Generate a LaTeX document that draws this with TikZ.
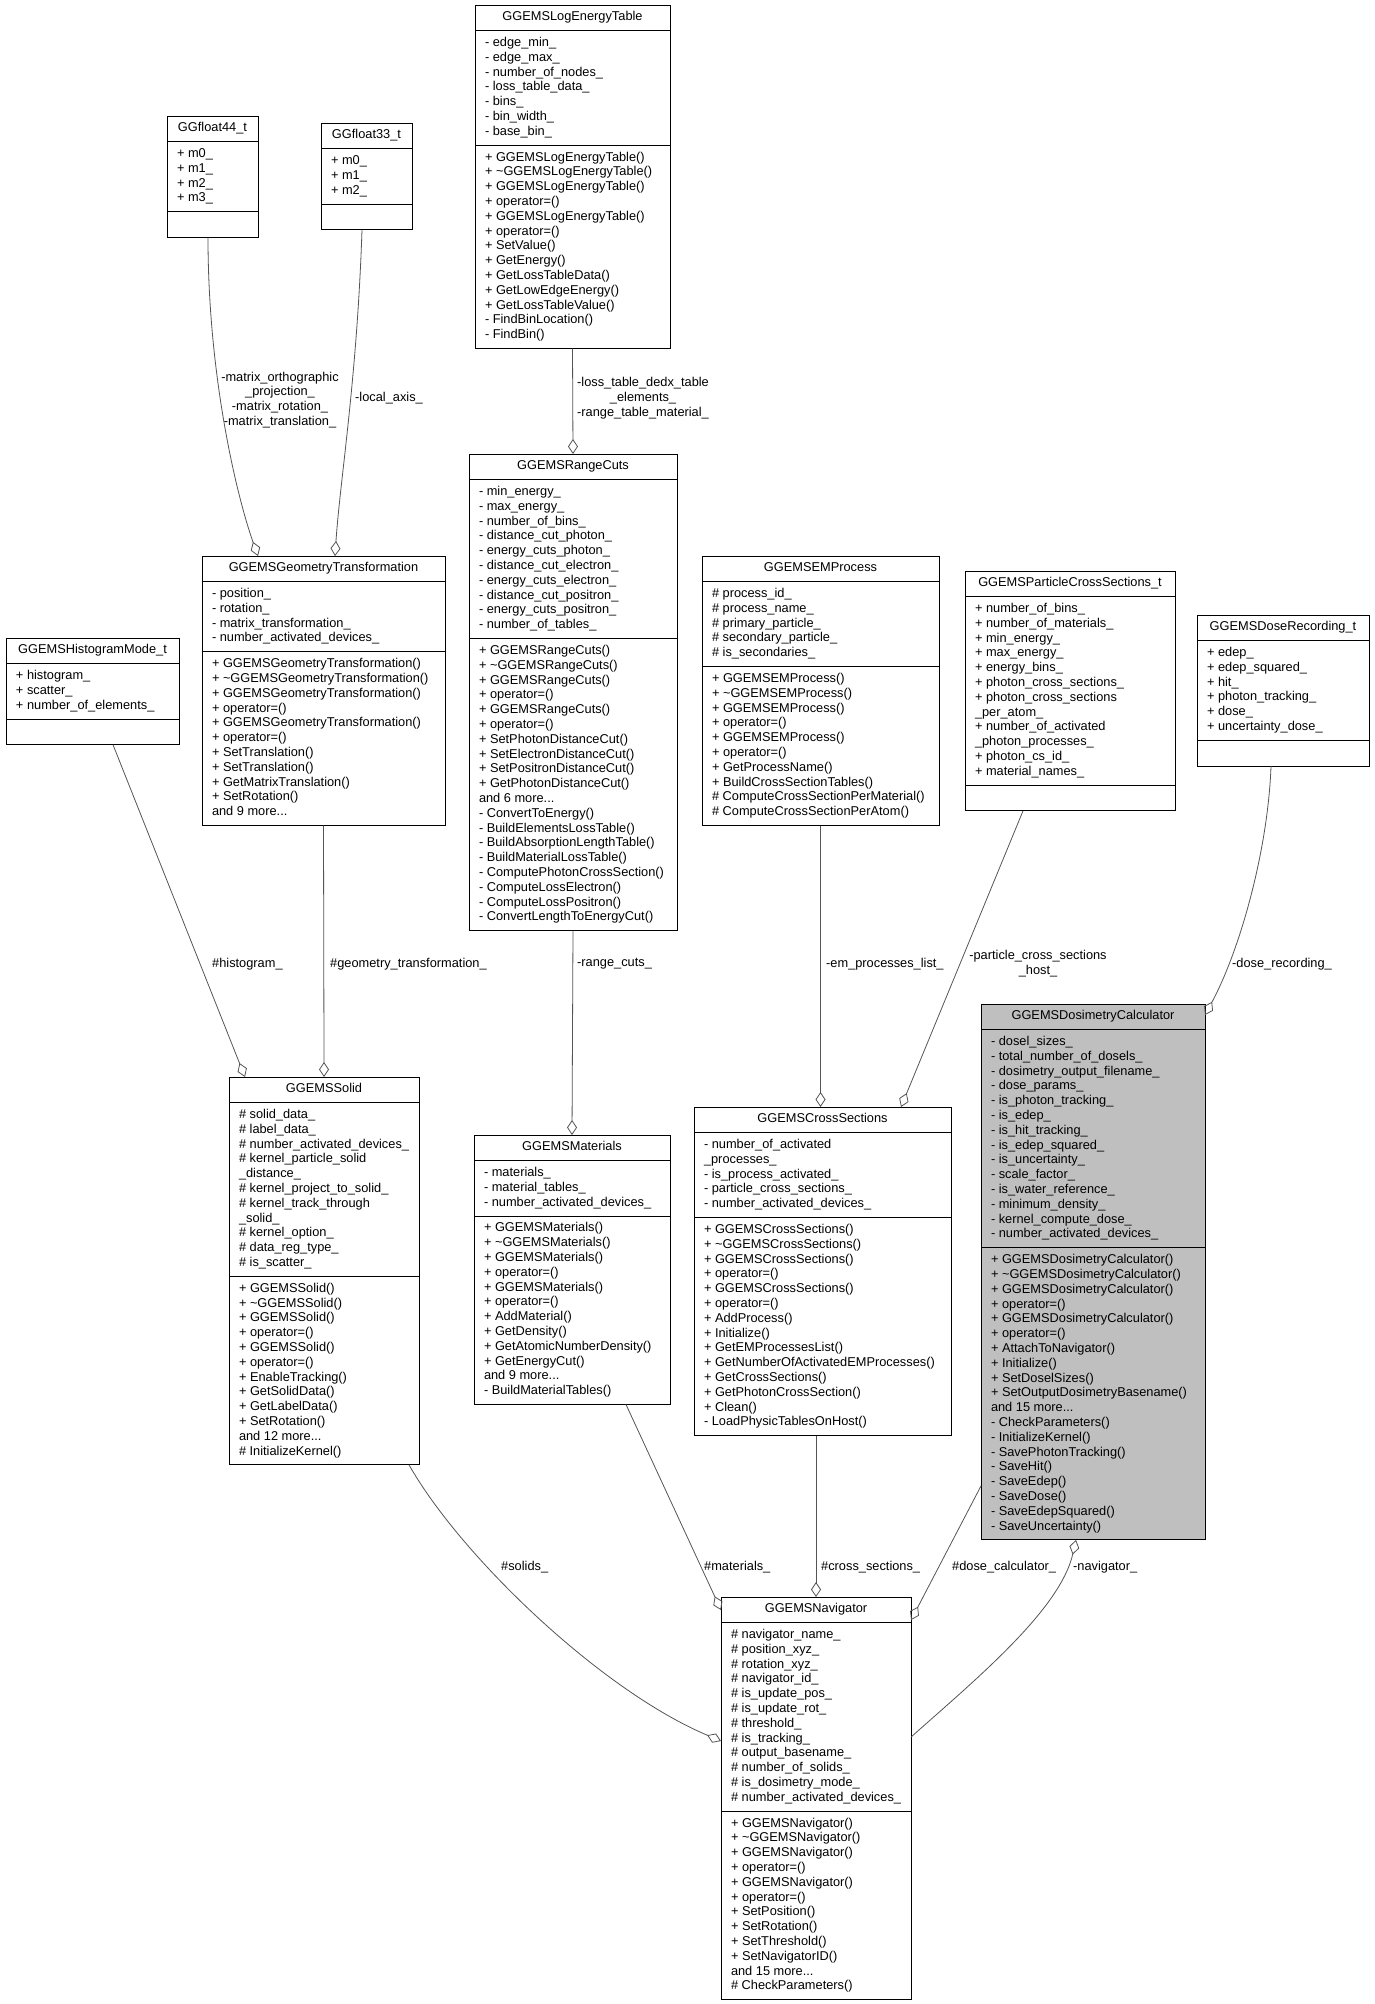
\documentclass[tikz,border=0pt]{standalone}
\usepackage{fontspec}
\setmainfont{Liberation Sans}
\usetikzlibrary{shapes.multipart,arrows.meta,calc}
\definecolor{edgeGray}{HTML}{555555}
\definecolor{calcGray}{HTML}{BFBFBF}

\begin{document}
\begin{tikzpicture}[x=1pt, y=-1pt,
    cls/.style={rectangle split, rectangle split parts=3, draw=black,
                line width=0.9pt, anchor=north west, outer sep=0pt,
                inner xsep=10pt, inner ysep=5pt, align=left,
                rectangle split part align={center,left,left},
                font=\fontsize{12.8}{14.8}\selectfont},
    agg/.style={draw=edgeGray, line width=0.8pt,
                -{Diamond[open,length=15pt,width=10pt]}},
    elabel/.style={inner sep=0pt, align=center,
                   font=\fontsize{12.8}{14.8}\selectfont},
]
    \fill[white] (0,0) rectangle (1375,2004);
    \useasboundingbox (0,0) rectangle (1375,2004);

    % top row
    \node[cls, minimum width=91pt] (f44) at (167,116) {\strut GGfloat44\_t
        \nodepart{two}\strut + m0\_\\ + m1\_\\ + m2\_\\ + m3\_\strut
        \nodepart{three}\strut};
    \node[cls, minimum width=91pt] (f33) at (321,123) {\strut GGfloat33\_t
        \nodepart{two}\strut + m0\_\\ + m1\_\\ + m2\_\strut
        \nodepart{three}\strut};
    \node[cls, minimum width=195pt] (logtab) at (475,5) {\strut GGEMSLogEnergyTable
        \nodepart{two}\strut - edge\_min\_\\ - edge\_max\_\\ - number\_of\_nodes\_\\
        - loss\_table\_data\_\\ - bins\_\\ - bin\_width\_\\ - base\_bin\_\strut
        \nodepart{three}\strut + GGEMSLogEnergyTable()\\ + \textasciitilde GGEMSLogEnergyTable()\\
        + GGEMSLogEnergyTable()\\ + operator=()\\ + GGEMSLogEnergyTable()\\ + operator=()\\
        + SetValue()\\ + GetEnergy()\\ + GetLossTableData()\\ + GetLowEdgeEnergy()\\
        + GetLossTableValue()\\ - FindBinLocation()\\ - FindBin()\strut};

    % middle row
    \node[cls, minimum width=208pt] (rcuts) at (469,454) {\strut GGEMSRangeCuts
        \nodepart{two}\strut - min\_energy\_\\ - max\_energy\_\\ - number\_of\_bins\_\\
        - distance\_cut\_photon\_\\ - energy\_cuts\_photon\_\\ - distance\_cut\_electron\_\\
        - energy\_cuts\_electron\_\\ - distance\_cut\_positron\_\\ - energy\_cuts\_positron\_\\
        - number\_of\_tables\_\strut
        \nodepart{three}\strut + GGEMSRangeCuts()\\ + \textasciitilde GGEMSRangeCuts()\\
        + GGEMSRangeCuts()\\ + operator=()\\ + GGEMSRangeCuts()\\ + operator=()\\
        + SetPhotonDistanceCut()\\ + SetElectronDistanceCut()\\ + SetPositronDistanceCut()\\
        + GetPhotonDistanceCut()\\ and 6 more...\\ - ConvertToEnergy()\\
        - BuildElementsLossTable()\\ - BuildAbsorptionLengthTable()\\ - BuildMaterialLossTable()\\
        - ComputePhotonCrossSection()\\ - ComputeLossElectron()\\ - ComputeLossPositron()\\
        - ConvertLengthToEnergyCut()\strut};
    \node[cls, minimum width=243pt] (gt) at (202,556) {\strut GGEMSGeometryTransformation
        \nodepart{two}\strut - position\_\\ - rotation\_\\ - matrix\_transformation\_\\
        - number\_activated\_devices\_\strut
        \nodepart{three}\strut + GGEMSGeometryTransformation()\\
        + \textasciitilde GGEMSGeometryTransformation()\\ + GGEMSGeometryTransformation()\\
        + operator=()\\ + GGEMSGeometryTransformation()\\ + operator=()\\ + SetTranslation()\\
        + SetTranslation()\\ + GetMatrixTranslation()\\ + SetRotation()\\ and 9 more...\strut};
    \node[cls, minimum width=173pt] (hist) at (6,638) {\strut GGEMSHistogramMode\_t
        \nodepart{two}\strut + histogram\_\\ + scatter\_\\ + number\_of\_elements\_\strut
        \nodepart{three}\strut};
    \node[cls, minimum width=237pt] (emp) at (702,556) {\strut GGEMSEMProcess
        \nodepart{two}\strut \# process\_id\_\\ \# process\_name\_\\ \# primary\_particle\_\\
        \# secondary\_particle\_\\ \# is\_secondaries\_\strut
        \nodepart{three}\strut + GGEMSEMProcess()\\ + \textasciitilde GGEMSEMProcess()\\
        + GGEMSEMProcess()\\ + operator=()\\ + GGEMSEMProcess()\\ + operator=()\\
        + GetProcessName()\\ + BuildCrossSectionTables()\\
        \# ComputeCrossSectionPerMaterial()\\ \# ComputeCrossSectionPerAtom()\strut};
    \node[cls, minimum width=210pt] (pcs) at (965,571) {\strut GGEMSParticleCrossSections\_t
        \nodepart{two}\strut + number\_of\_bins\_\\ + number\_of\_materials\_\\ + min\_energy\_\\
        + max\_energy\_\\ + energy\_bins\_\\ + photon\_cross\_sections\_\\
        + photon\_cross\_sections\\ \_per\_atom\_\\ + number\_of\_activated\\
        \_photon\_processes\_\\ + photon\_cs\_id\_\\ + material\_names\_\strut
        \nodepart{three}\strut};
    \node[cls, minimum width=172pt] (doserec) at (1197,615) {\strut GGEMSDoseRecording\_t
        \nodepart{two}\strut + edep\_\\ + edep\_squared\_\\ + hit\_\\ + photon\_tracking\_\\
        + dose\_\\ + uncertainty\_dose\_\strut
        \nodepart{three}\strut};
    \node[cls, minimum width=224pt, fill=calcGray] (dosi) at (981,1004) {\strut GGEMSDosimetryCalculator
        \nodepart{two}\strut - dosel\_sizes\_\\ - total\_number\_of\_dosels\_\\
        - dosimetry\_output\_filename\_\\ - dose\_params\_\\ - is\_photon\_tracking\_\\
        - is\_edep\_\\ - is\_hit\_tracking\_\\ - is\_edep\_squared\_\\ - is\_uncertainty\_\\
        - scale\_factor\_\\ - is\_water\_reference\_\\ - minimum\_density\_\\
        - kernel\_compute\_dose\_\\ - number\_activated\_devices\_\strut
        \nodepart{three}\strut + GGEMSDosimetryCalculator()\\
        + \textasciitilde GGEMSDosimetryCalculator()\\ + GGEMSDosimetryCalculator()\\
        + operator=()\\ + GGEMSDosimetryCalculator()\\ + operator=()\\ + AttachToNavigator()\\
        + Initialize()\\ + SetDoselSizes()\\ + SetOutputDosimetryBasename()\\ and 15 more...\\
        - CheckParameters()\\ - InitializeKernel()\\ - SavePhotonTracking()\\ - SaveHit()\\
        - SaveEdep()\\ - SaveDose()\\ - SaveEdepSquared()\\ - SaveUncertainty()\strut};

    % lower row
    \node[cls, minimum width=190pt] (solid) at (229,1077) {\strut GGEMSSolid
        \nodepart{two}\strut \# solid\_data\_\\ \# label\_data\_\\
        \# number\_activated\_devices\_\\ \# kernel\_particle\_solid\\ \_distance\_\\
        \# kernel\_project\_to\_solid\_\\ \# kernel\_track\_through\\ \_solid\_\\
        \# kernel\_option\_\\ \# data\_reg\_type\_\\ \# is\_scatter\_\strut
        \nodepart{three}\strut + GGEMSSolid()\\ + \textasciitilde GGEMSSolid()\\ + GGEMSSolid()\\
        + operator=()\\ + GGEMSSolid()\\ + operator=()\\ + EnableTracking()\\ + GetSolidData()\\
        + GetLabelData()\\ + SetRotation()\\ and 12 more...\\ \# InitializeKernel()\strut};
    \node[cls, minimum width=196pt] (mat) at (474,1135) {\strut GGEMSMaterials
        \nodepart{two}\strut - materials\_\\ - material\_tables\_\\
        - number\_activated\_devices\_\strut
        \nodepart{three}\strut + GGEMSMaterials()\\ + \textasciitilde GGEMSMaterials()\\
        + GGEMSMaterials()\\ + operator=()\\ + GGEMSMaterials()\\ + operator=()\\
        + AddMaterial()\\ + GetDensity()\\ + GetAtomicNumberDensity()\\ + GetEnergyCut()\\
        and 9 more...\\ - BuildMaterialTables()\strut};
    \node[cls, minimum width=257pt] (xs) at (694,1107) {\strut GGEMSCrossSections
        \nodepart{two}\strut - number\_of\_activated\\ \_processes\_\\
        - is\_process\_activated\_\\ - particle\_cross\_sections\_\\
        - number\_activated\_devices\_\strut
        \nodepart{three}\strut + GGEMSCrossSections()\\ + \textasciitilde GGEMSCrossSections()\\
        + GGEMSCrossSections()\\ + operator=()\\ + GGEMSCrossSections()\\ + operator=()\\
        + AddProcess()\\ + Initialize()\\ + GetEMProcessesList()\\
        + GetNumberOfActivatedEMProcesses()\\ + GetCrossSections()\\
        + GetPhotonCrossSection()\\ + Clean()\\ - LoadPhysicTablesOnHost()\strut};
    \node[cls, minimum width=190pt] (nav) at (721,1597) {\strut GGEMSNavigator
        \nodepart{two}\strut \# navigator\_name\_\\ \# position\_xyz\_\\ \# rotation\_xyz\_\\
        \# navigator\_id\_\\ \# is\_update\_pos\_\\ \# is\_update\_rot\_\\ \# threshold\_\\
        \# is\_tracking\_\\ \# output\_basename\_\\ \# number\_of\_solids\_\\
        \# is\_dosimetry\_mode\_\\ \# number\_activated\_devices\_\strut
        \nodepart{three}\strut + GGEMSNavigator()\\ + \textasciitilde GGEMSNavigator()\\
        + GGEMSNavigator()\\ + operator=()\\ + GGEMSNavigator()\\ + operator=()\\
        + SetPosition()\\ + SetRotation()\\ + SetThreshold()\\ + SetNavigatorID()\\
        and 15 more...\\ \# CheckParameters()\strut};

    % aggregation edges
    \draw[agg] ([xshift=41pt]f44.south west) .. controls (208,380) and (238,500)
        .. ([xshift=56pt]gt.north west);
    \draw[agg] ([xshift=41pt]f33.south west) .. controls (357,380) and (340,480)
        .. ([xshift=133pt]gt.north west);
    \draw[agg] (logtab.south) -- (rcuts.north);
    \draw[agg] (gt.south) -- (solid.north);
    \draw[agg] ([xshift=107pt]hist.south west) -- ([xshift=16pt]solid.north west);
    \draw[agg] (rcuts.south) -- (mat.north);
    \draw[agg] (emp.south) -- (emp.south |- xs.north);
    \draw[agg] ([xshift=58pt]pcs.south west) -- ([xshift=207pt]xs.north west);
    \draw[agg] ([xshift=74pt]doserec.south west) .. controls (1268,850) and (1240,950)
        .. ([yshift=-11pt]dosi.north east);
    \draw[agg] ([xshift=-10pt]solid.south east) .. controls (460,1555) and (600,1690)
        .. ([yshift=-144pt]nav.north west);
    \draw[agg] ([xshift=152pt]mat.south west) -- ([yshift=-13pt]nav.north west);
    \draw[agg] (nav.north |- xs.south) -- (nav.north);
    \draw[agg] ([yshift=54pt]dosi.south west) -- ([yshift=-23pt]nav.north east);
    \draw[agg] ([yshift=-140pt]nav.north east) .. controls (975,1680) and (1060,1610)
        .. ([xshift=95pt]dosi.south west);

    % edge labels
    \node[elabel] (lmatrix) at (280,400) {-matrix\_orthographic\\ \_projection\_\\
        -matrix\_rotation\_\\ -matrix\_translation\_};
    \node[elabel] (laxis) at (389,398) {-local\_axis\_};
    \node[elabel, anchor=west] (lloss) at (577,398) {-loss\_table\_dedx\_table\\ \_elements\_\\
        -range\_table\_material\_};
    \node[elabel, anchor=west] (lhist) at (212,964) {\#histogram\_};
    \node[elabel, anchor=west] (lgeom) at (330,964) {\#geometry\_transformation\_};
    \node[elabel, anchor=west] (lrange) at (577,964) {-range\_cuts\_};
    \node[elabel, anchor=west] (lem) at (826,964) {-em\_processes\_list\_};
    \node[elabel] (lpart) at (1038,964) {-particle\_cross\_sections\\ \_host\_};
    \node[elabel, anchor=west] (ldose) at (1232,964) {-dose\_recording\_};
    \node[elabel, anchor=west] (lsolids) at (501,1567) {\#solids\_};
    \node[elabel, anchor=west] (lmat) at (704,1567) {\#materials\_};
    \node[elabel, anchor=west] (lxs) at (821,1567) {\#cross\_sections\_};
    \node[elabel, anchor=west] (ldcalc) at (952,1567) {\#dose\_calculator\_};
    \node[elabel, anchor=west] (lnav) at (1073,1567) {-navigator\_};
\end{tikzpicture}
\end{document}
